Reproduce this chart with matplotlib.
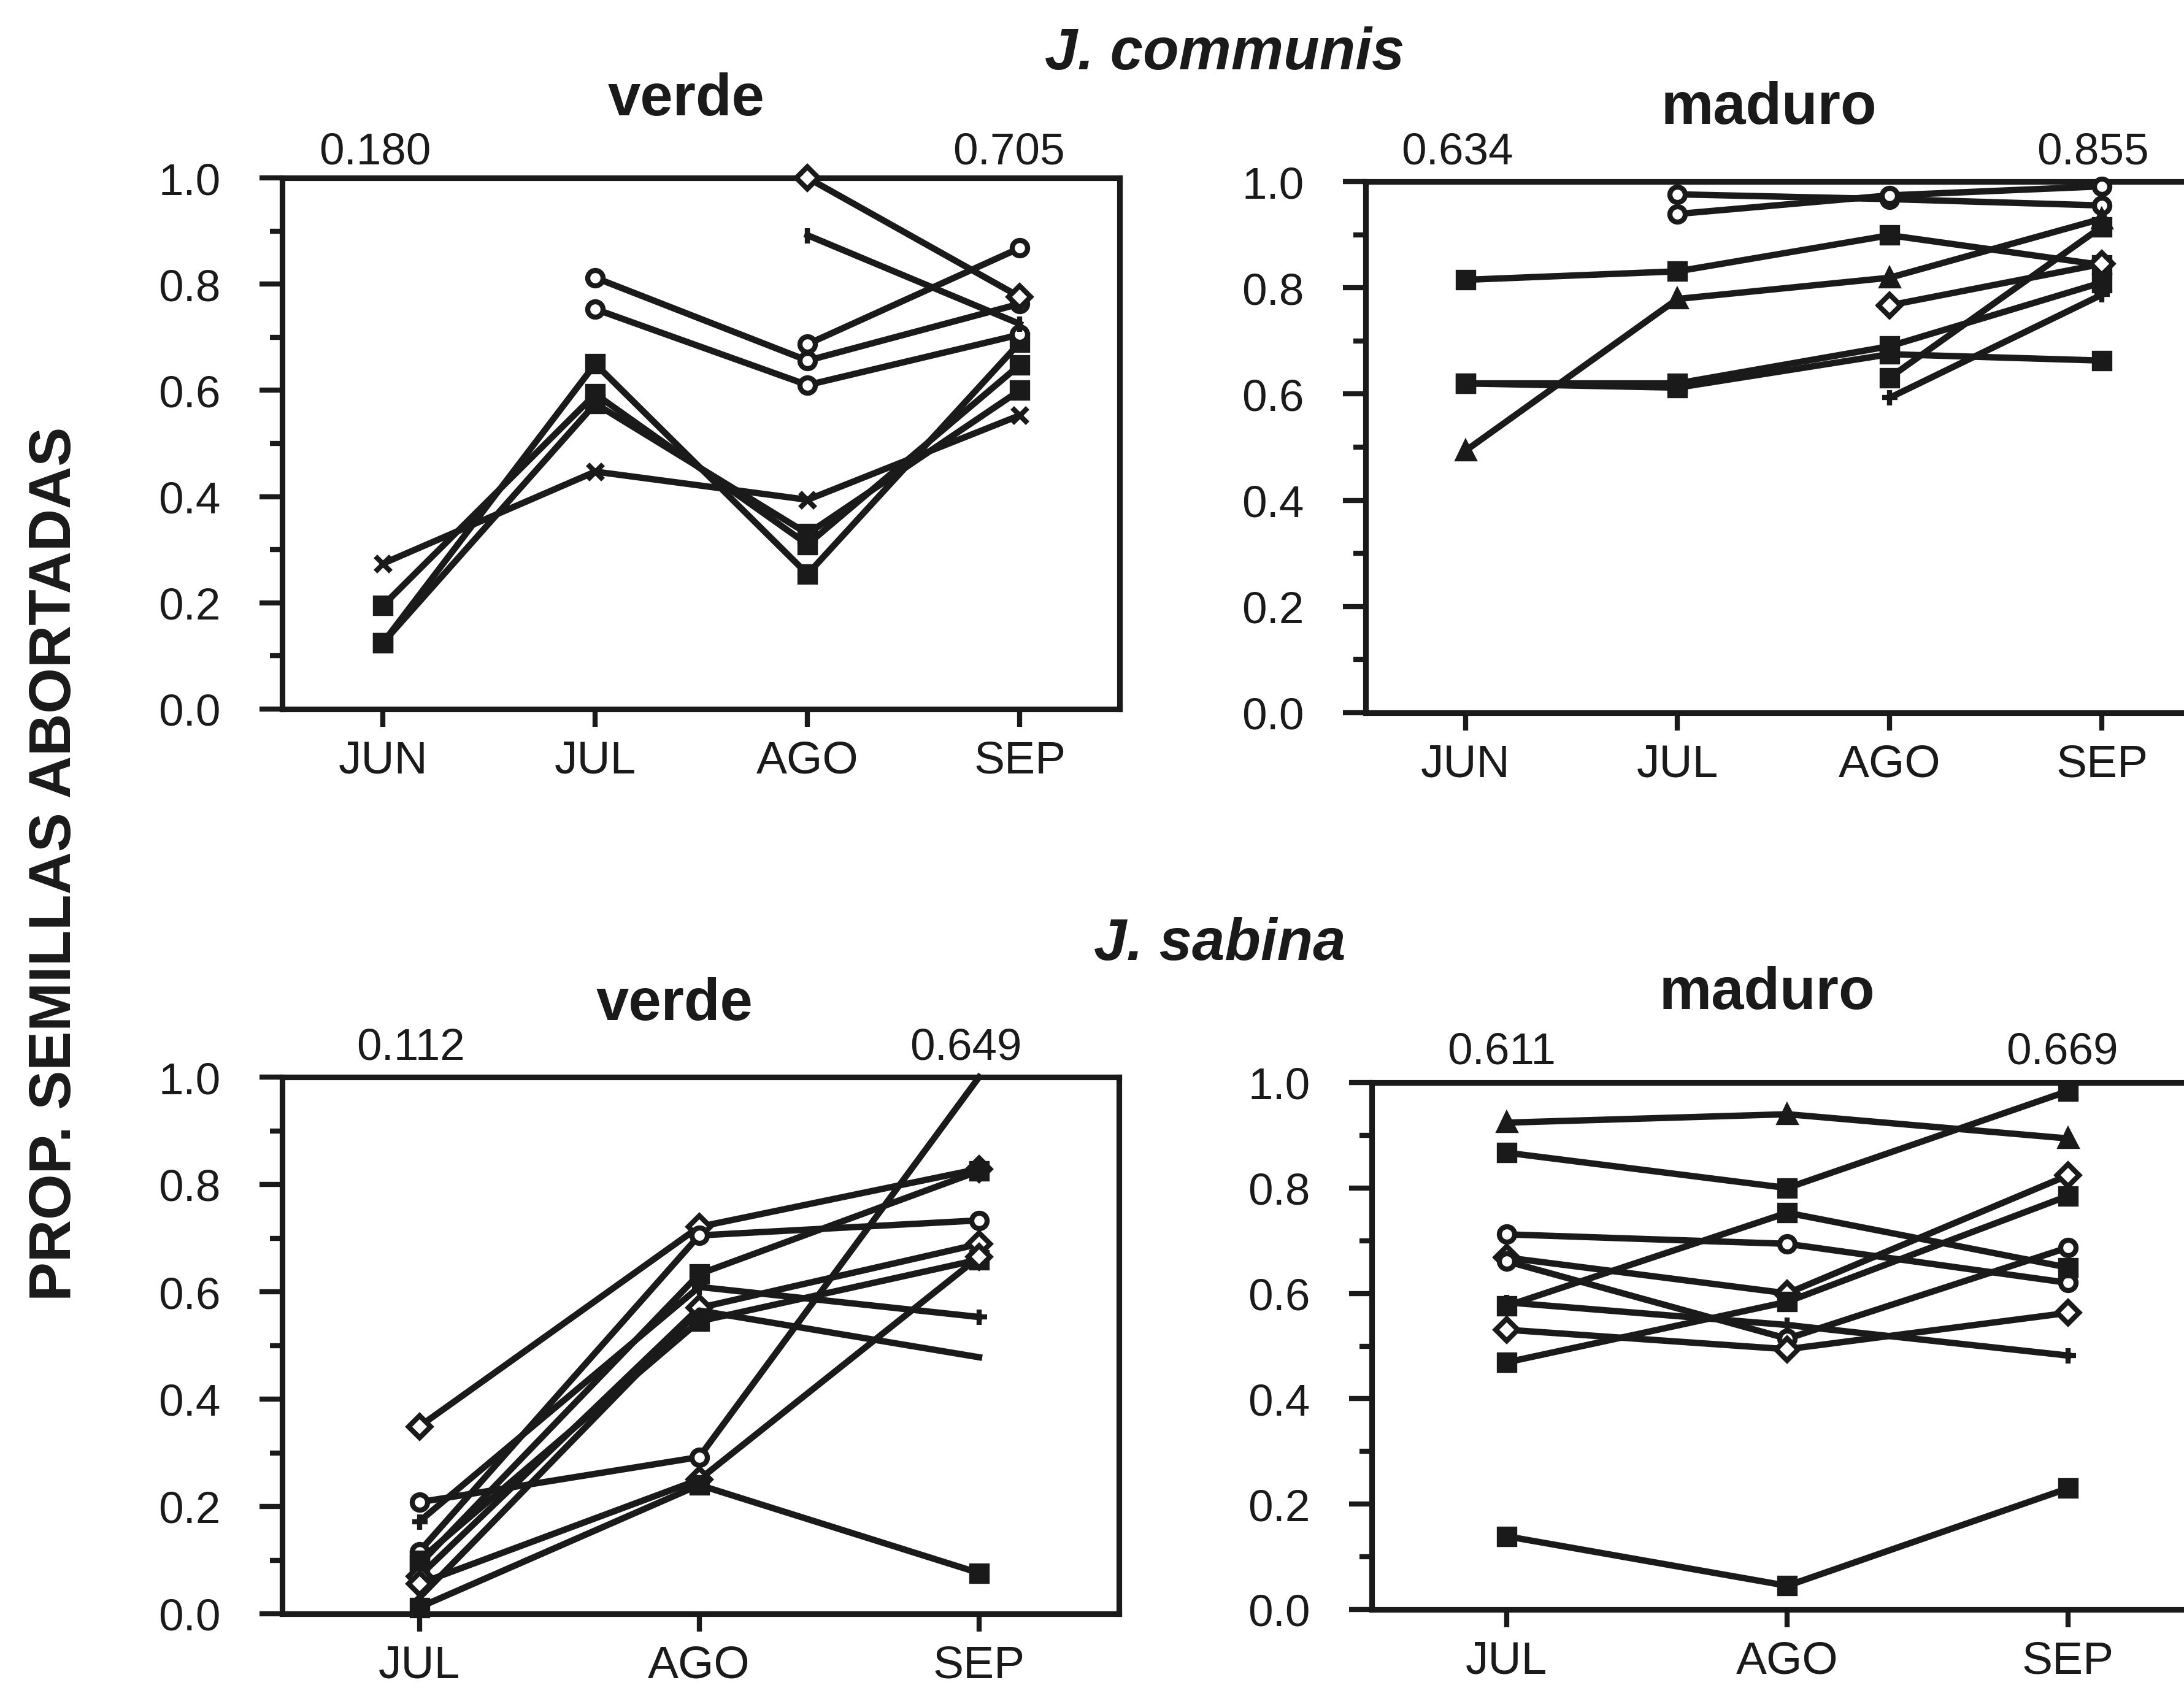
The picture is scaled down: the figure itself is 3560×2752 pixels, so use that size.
import numpy as np
import matplotlib
matplotlib.use("Agg")
import matplotlib.pyplot as plt

plt.rcParams['font.family'] = ['Liberation Sans', 'DejaVu Sans']

nan = np.nan

# Meses
meses_communis = ['JUN', 'JUL', 'AGO', 'SEP']
meses_sabina = ['JUL', 'AGO', 'SEP']

# J. communis - verde (JUN, JUL, AGO, SEP)
communis_verde = [
    [0.125, 0.650, 0.254, 0.690],
    [0.195, 0.593, 0.310, 0.648],
    [0.125, 0.575, 0.330, 0.600],
    [0.274, 0.447, 0.394, 0.553],
    [nan, 0.812, 0.656, 0.763],
    [nan, 0.753, 0.610, 0.705],
    [nan, nan, 0.687, 0.868],
    [nan, nan, 1.000, 0.776],
    [nan, nan, 0.892, 0.725],
]
communis_verde_marcas = ['s', 's', 's', 'x', 'o', 'o', 'o', 'D', '|']

# J. communis - maduro (JUN, JUL, AGO, SEP)
communis_maduro = [
    [nan, 0.976, 0.967, 0.955],
    [nan, 0.939, 0.974, 0.991],
    [0.815, 0.831, 0.899, 0.843],
    [0.493, 0.779, 0.819, 0.930],
    [nan, nan, 0.767, 0.845],
    [0.620, 0.620, 0.690, 0.810],
    [0.620, 0.612, 0.675, 0.663],
    [nan, nan, 0.631, 0.915],
    [nan, nan, 0.593, 0.787],
]
communis_maduro_marcas = ['o', 'o', 's', '^', 'D', 's', 's', 's', '+']

# J. sabina - verde (JUL, AGO, SEP)
sabina_verde = [
    [0.349, 0.721, 0.829],
    [0.116, 0.705, 0.733],
    [0.092, 0.633, 0.825],
    [0.172, 0.609, 0.553],
    [0.070, 0.570, 0.689],
    [0.100, 0.545, 0.660],
    [0.030, 0.565, 0.478],
    [0.208, 0.292, 1.000],
    [0.056, 0.250, 0.665],
    [0.012, 0.240, 0.076],
]
sabina_verde_marcas = ['D', 'o', 's', '+', 'D', 's', '', 'o', 'D', 's']

# J. sabina - maduro (JUL, AGO, SEP)
sabina_maduro = [
    [0.924, 0.940, 0.894],
    [0.867, 0.800, 0.984],
    [0.712, 0.694, 0.620],
    [0.668, 0.600, 0.824],
    [0.661, 0.514, 0.687],
    [0.576, 0.753, 0.649],
    [0.583, 0.540, 0.482],
    [0.531, 0.494, 0.563],
    [0.469, 0.584, 0.785],
    [0.139, 0.045, 0.230],
]
sabina_maduro_marcas = ['^', 's', 'o', 'D', 'o', 's', '+', 'D', 's', 's']

# Medias de cada panel (inicio, final)
medias = {
    'cv': ['0.180', '0.705'],
    'cm': ['0.634', '0.855'],
    'sv': ['0.112', '0.649'],
    'sm': ['0.611', '0.669'],
}

y_mayores = [0.0, 0.2, 0.4, 0.6, 0.8, 1.0]
y_menores = [0.1, 0.3, 0.5, 0.7, 0.9]

W, H = 3561, 2753
DPI = 300
fig = plt.figure(figsize=(W / DPI, H / DPI), dpi=DPI)
negro = '#1a1a1a'


def caja(left, top, right, bottom):
    return [left / W, 1 - bottom / H, (right - left) / W, (bottom - top) / H]


def texto(x, y, s, **kw):
    fig.text(x / W, 1 - y / H, s, ha='center', va='baseline', color=negro, **kw)


def panel(rect, meses, series, marcas, xlim, cortado):
    ax = fig.add_axes(rect)
    x = np.arange(len(meses))
    for valores, m in zip(series, marcas):
        v = np.array(valores, dtype=float)
        cara = 'white' if m in ('D', 'o') else negro
        markevery = None
        if m == 'o' and v[-1] >= 1.0:
            markevery = [0, 1]
        ax.plot(x, v, color=negro, lw=2.5, marker=m if m else None,
                ms=6, mfc=cara, mec=negro, mew=2.0,
                markevery=markevery, clip_on=False, zorder=3)
    ax.set_xlim(*xlim)
    ax.set_ylim(0, 1)
    ax.set_xticks(x)
    ax.set_xticklabels(meses, fontsize=18)
    ax.set_yticks(y_mayores)
    ax.set_yticklabels([f'{t:.1f}' for t in y_mayores], fontsize=17.5)
    ax.set_yticks(y_menores, minor=True)
    ax.tick_params(axis='y', which='major', direction='out', length=9, width=2, pad=15, colors=negro)
    ax.tick_params(axis='y', which='minor', direction='out', length=4.8, width=2, colors=negro)
    ax.tick_params(axis='x', which='major', direction='out', length=7, width=2, pad=5, colors=negro)
    for s in ax.spines.values():
        s.set_linewidth(2.2)
        s.set_color(negro)
    if cortado:
        ax.spines['right'].set_visible(False)
    return ax


panel(caja(460, 291, 1825, 1157), meses_communis, communis_verde, communis_verde_marcas,
      (-0.475, 3.47), False)
panel(caja(2226, 297, W, 1163), meses_communis, communis_maduro, communis_maduro_marcas,
      (-0.47, 3.39), True)
panel(caja(460, 1757, 1824, 2632), meses_sabina, sabina_verde, sabina_verde_marcas,
      (-0.49, 2.5), False)
panel(caja(2236, 1766, W, 2625), meses_sabina, sabina_maduro, sabina_maduro_marcas,
      (-0.48, 2.415), True)

# Titulos
texto(1996, 113, 'J. communis', fontsize=23, fontweight='bold', style='italic')
texto(1119, 188, 'verde', fontsize=23, fontweight='bold')
texto(2883, 202, 'maduro', fontsize=23, fontweight='bold')
texto(1988, 1565, 'J. sabina', fontsize=23, fontweight='bold', style='italic')
texto(1100, 1663, 'verde', fontsize=23, fontweight='bold')
texto(2880, 1645, 'maduro', fontsize=23, fontweight='bold')

# Valores medios sobre cada panel
texto(611, 268, medias['cv'][0], fontsize=17.5)
texto(1644, 268, medias['cv'][1], fontsize=17.5)
texto(2375, 268, medias['cm'][0], fontsize=17.5)
texto(3411, 268, medias['cm'][1], fontsize=17.5)
texto(670, 1728, medias['sv'][0], fontsize=17.5)
texto(1574, 1728, medias['sv'][1], fontsize=17.5)
texto(2448, 1735, medias['sm'][0], fontsize=17.5)
texto(3361, 1735, medias['sm'][1], fontsize=17.5)

# Eje Y comun
fig.text(90 / W, 1 - 1408 / H, 'PROP. SEMILLAS ABORTADAS', rotation=90,
         ha='center', va='center', fontsize=23, fontweight='bold', color=negro)

fig.savefig('out.png', dpi=DPI)
